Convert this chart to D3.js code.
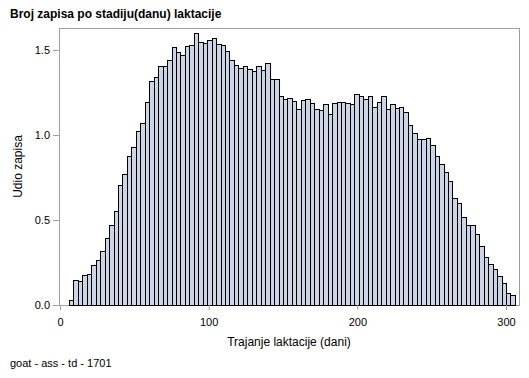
<!DOCTYPE html>
<html>
<head>
<meta charset="utf-8">
<script src="https://cdn.jsdelivr.net/npm/d3@7"></script>
<style>
  body { margin: 0; background: #fff; }
  svg text { font-family: "Liberation Sans", Arial, sans-serif; fill: #000; }
</style>
</head>
<body>
<div class="hist_container"></div>
<script>
// podaci - udio zapisa po razredu od 3 dana
const firstBin = 6
const binWidth = 3
const shareValues = [
  0.028, 0.145, 0.139, 0.175, 0.181, 0.233, 0.263, 0.316, 0.392, 0.469,
  0.551, 0.704, 0.769, 0.875, 0.929, 1.022, 1.069, 1.192, 1.316, 1.339,
  1.404, 1.404, 1.439, 1.516, 1.486, 1.469, 1.522, 1.527, 1.598, 1.545,
  1.539, 1.557, 1.569, 1.535, 1.527, 1.492, 1.439, 1.410, 1.392, 1.404,
  1.386, 1.375, 1.404, 1.380, 1.424, 1.327, 1.327, 1.228, 1.212, 1.216,
  1.198, 1.153, 1.204, 1.212, 1.186, 1.153, 1.147, 1.180, 1.122, 1.186,
  1.192, 1.192, 1.186, 1.180, 1.239, 1.229, 1.212, 1.228, 1.163, 1.192,
  1.228, 1.153, 1.180, 1.157, 1.163, 1.133, 1.057, 1.010, 0.975, 0.975,
  0.981, 0.939, 0.875, 0.828, 0.781, 0.728, 0.628, 0.598, 0.516, 0.469,
  0.469, 0.416, 0.345, 0.280, 0.239, 0.210, 0.169, 0.128, 0.069, 0.057
]
const xTicks = [0, 100, 200, 300]
const yTicks = [0, 0.5, 1.0, 1.5]

const titleText = 'Broj zapisa po stadiju(danu) laktacije'
const xLabel = 'Trajanje laktacije (dani)'
const yLabel = 'Udio zapisa'
const footText = 'goat - ass - td - 1701'

const bins = shareValues.map((v, i) => ({
  x0: firstBin + i * binWidth,
  x1: firstBin + (i + 1) * binWidth,
  value: v
}))

const svg_width = 529
const svg_height = 378
const frame = {left: 59, right: 519, top: 28, bottom: 305}

const svg = d3.select('.hist_container').append('svg')
  .attr('width', svg_width).attr('height', svg_height)

const xScale = d3.scaleLinear([0, 300], [60, 506])
const yScale = d3.scaleLinear([0, 1.5], [305, 50])

// okvir
svg.append('rect')
  .attr('x', frame.left + 0.5).attr('y', frame.top + 0.5)
  .attr('width', frame.right - frame.left).attr('height', frame.bottom - frame.top)
  .attr('fill', 'none').attr('stroke', '#a0a0a0')

// stupci
svg.append('g').selectAll('rect').data(bins).join('rect')
  .attr('x', d => Math.round(xScale(d.x0)) + 0.5)
  .attr('y', d => Math.round(yScale(d.value)) + 0.5)
  .attr('width', d => Math.round(xScale(d.x1)) - Math.round(xScale(d.x0)))
  .attr('height', d => Math.round(yScale(0)) - Math.round(yScale(d.value)))
  .attr('fill', '#cbd5e6')
  .attr('stroke', '#000')
  .attr('stroke-width', 1)

// osi
const xAxis = d3.axisBottom(xScale).tickValues(xTicks).tickFormat(d3.format('d'))
  .tickSizeInner(5).tickSizeOuter(0).tickPadding(8)
const xAxisDraw = svg.append('g').attr('transform', `translate(0,${frame.bottom})`).call(xAxis)

const yAxis = d3.axisLeft(yScale).tickValues(yTicks).tickFormat(d3.format('.1f'))
  .tickSizeInner(6).tickSizeOuter(0).tickPadding(3)
const yAxisDraw = svg.append('g').attr('transform', `translate(${frame.left},0)`).call(yAxis)

;[xAxisDraw, yAxisDraw].forEach(g => {
  g.select('.domain').remove()
  g.selectAll('.tick line').attr('stroke', '#a0a0a0')
  g.selectAll('.tick text').attr('font-size', 11).attr('fill', '#000')
    .attr('font-family', '"Liberation Sans", Arial, sans-serif')
})

// naslovi
svg.append('text').attr('x', 10).attr('y', 18)
  .attr('font-size', 12).attr('font-weight', 'bold').text(titleText)

svg.append('text').attr('x', (frame.left + frame.right) / 2).attr('y', 346)
  .attr('text-anchor', 'middle').attr('font-size', 12).text(xLabel)

svg.append('text')
  .attr('transform', `translate(22,${(frame.top + frame.bottom) / 2}) rotate(-90)`)
  .attr('text-anchor', 'middle').attr('font-size', 12).text(yLabel)

svg.append('text').attr('x', 10).attr('y', 367)
  .attr('font-size', 11).text(footText)
</script>
</body>
</html>
